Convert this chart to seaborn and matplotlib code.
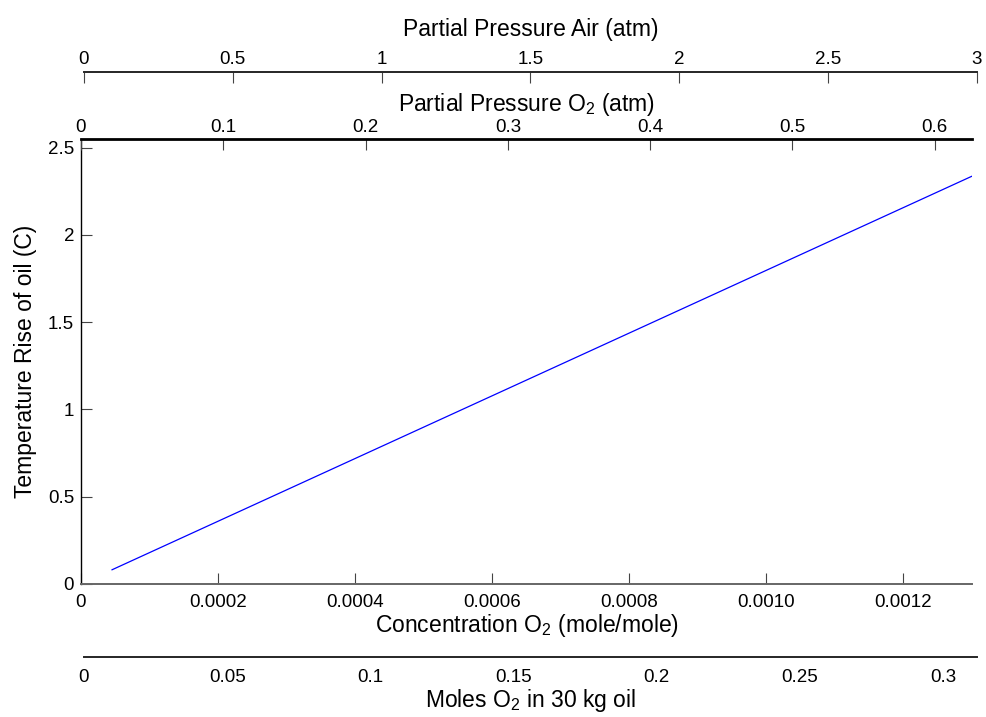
import matplotlib
matplotlib.use("Agg")
import matplotlib.pyplot as plt
import seaborn as sns
import pandas as pd

# Temperature rise of oil against dissolved O2 concentration
conc_o2 = [0.000045, 0.0013]          # mole/mole
temp_rise = [0.081, 2.336]            # C

conc_ticks = [0, 0.0002, 0.0004, 0.0006, 0.0008, 0.0010, 0.0012]
conc_labels = ["0", "0.0002", "0.0004", "0.0006", "0.0008", "0.0010", "0.0012"]
temp_ticks = [0, 0.5, 1, 1.5, 2, 2.5]
temp_labels = ["0", "0.5", "1", "1.5", "2", "2.5"]
po2_ticks = [0, 0.1, 0.2, 0.3, 0.4, 0.5, 0.6]
po2_labels = ["0", "0.1", "0.2", "0.3", "0.4", "0.5", "0.6"]
pair_ticks = [0, 0.5, 1, 1.5, 2, 2.5, 3]
pair_labels = ["0", "0.5", "1", "1.5", "2", "2.5", "3"]
moles_ticks = [0, 0.05, 0.1, 0.15, 0.2, 0.25, 0.3]
moles_labels = ["0", "0.05", "0.1", "0.15", "0.2", "0.25", "0.3"]

conc_max = 0.0013
temp_max = 2.549
po2_max = 0.6262
pair_max = 3.0
moles_max = 0.3118

sns.set_style("white")
plt.rcParams["font.family"] = ["Liberation Sans", "DejaVu Sans"]
plt.rcParams["mathtext.fontset"] = "custom"
plt.rcParams["mathtext.rm"] = "Liberation Sans"
plt.rcParams["mathtext.it"] = "Liberation Sans:italic"
plt.rcParams["text.color"] = "black"
plt.rcParams["axes.labelcolor"] = "black"
plt.rcParams["xtick.color"] = "black"
plt.rcParams["ytick.color"] = "black"

TICK_FS = 13.5
LABEL_FS = 16.5
TICK_COLOR = "#444444"
W, H = 987, 717

fig = plt.figure(figsize=(W / 100, H / 100), dpi=100)
fig.patch.set_facecolor("white")


def rect(x0, y_top, x1, y_bot):
    return [x0 / W, 1 - y_bot / H, (x1 - x0) / W, (y_bot - y_top) / H]


# main axes
ax = fig.add_axes(rect(81, 139, 972, 584))
df = pd.DataFrame({"conc": conc_o2, "temp": temp_rise})
sns.lineplot(data=df, x="conc", y="temp", ax=ax, color="#0000ff", linewidth=0.9)
ax.set_xlim(0, conc_max)
ax.set_ylim(0, temp_max)
for side in ("top", "right"):
    ax.spines[side].set_visible(False)
ax.spines["left"].set_color("black")
ax.spines["left"].set_linewidth(1.0)
ax.spines["bottom"].set_color("#666666")
ax.spines["bottom"].set_linewidth(1.4)
ax.set_facecolor("white")

# top axis: partial pressure of O2
ax_o2 = ax.twiny()
ax_o2.set_xlim(0, po2_max)
ax_o2.set_xticks(po2_ticks)
ax_o2.set_xticklabels(po2_labels)
for side in ("bottom", "left", "right"):
    ax_o2.spines[side].set_visible(False)
ax_o2.spines["top"].set_linewidth(2.0)
ax_o2.spines["top"].set_color("black")
ax_o2.tick_params(axis="x", direction="in", length=8, width=0.8, colors=TICK_COLOR,
                  labelcolor="black", labelsize=TICK_FS, pad=2)
ax_o2.set_xlabel("Partial Pressure O$_2$ (atm)", fontsize=LABEL_FS, labelpad=6)

# main ticks and labels (set after the twin so they stay in place)
ax.set_xticks(conc_ticks)
ax.set_xticklabels(conc_labels)
ax.set_yticks(temp_ticks)
ax.set_yticklabels(temp_labels)
ax.tick_params(axis="both", direction="in", length=8, width=0.8, colors=TICK_COLOR,
               labelcolor="black", labelsize=TICK_FS, pad=5)
ax.tick_params(axis="x", pad=7)
ax.tick_params(axis="y", left=True, labelleft=True)
ax.set_xlabel("Concentration O$_2$ (mole/mole)", fontsize=LABEL_FS, labelpad=1)
ax.set_ylabel("Temperature Rise of oil (C)", fontsize=LABEL_FS, labelpad=8)

# top axis: partial pressure of air
ax_air = fig.add_axes(rect(84, 72, 977, 82))
ax_air.set_xlim(0, pair_max)
ax_air.set_ylim(0, 1)
ax_air.patch.set_visible(False)
for side in ("bottom", "left", "right"):
    ax_air.spines[side].set_visible(False)
ax_air.spines["top"].set_linewidth(1.4)
ax_air.xaxis.set_ticks_position("top")
ax_air.xaxis.set_label_position("top")
ax_air.set_xticks(pair_ticks)
ax_air.set_xticklabels(pair_labels)
ax_air.set_yticks([])
ax_air.tick_params(axis="x", direction="in", length=8, width=0.8, colors=TICK_COLOR,
                   labelcolor="black", labelsize=TICK_FS, pad=3)
ax_air.set_xlabel("Partial Pressure Air (atm)", fontsize=LABEL_FS, labelpad=11)

# bottom axis: moles of O2 in the oil
ax_mol = fig.add_axes(rect(84, 647, 977, 657))
ax_mol.set_xlim(0, moles_max)
ax_mol.set_ylim(0, 1)
ax_mol.patch.set_visible(False)
for side in ("top", "left", "right"):
    ax_mol.spines[side].set_visible(False)
ax_mol.spines["bottom"].set_linewidth(1.4)
ax_mol.set_xticks(moles_ticks)
ax_mol.set_xticklabels(moles_labels)
ax_mol.set_yticks([])
ax_mol.tick_params(axis="x", direction="in", length=8, width=0.8, colors=TICK_COLOR,
                   labelcolor="black", labelsize=TICK_FS, pad=9)
ax_mol.set_xlabel("Moles O$_2$ in 30 kg oil", fontsize=LABEL_FS, labelpad=0)

fig.savefig("out.png", dpi=100, facecolor="white")
